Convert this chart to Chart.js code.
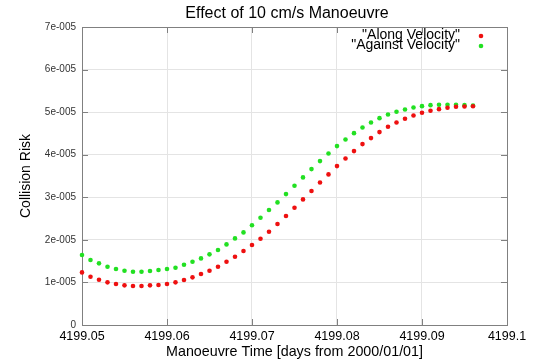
<!DOCTYPE html>
<html>
<head>
<meta charset="utf-8">
<script src="https://cdn.jsdelivr.net/npm/chart.js@4.4.1/dist/chart.umd.min.js"></script>
<style>
html,body{margin:0;padding:0;background:#fff;}
#wrap{width:537px;height:362px;}
</style>
</head>
<body>
<div id="wrap"><canvas id="c" width="537" height="362"></canvas></div>
<script>
const chartTitle = 'Effect of 10 cm/s Manoeuvre';
const xTitle = 'Manoeuvre Time [days from 2000/01/01]';
const yTitle = 'Collision Risk';
const seriesNames = ['"Along Velocity"', '"Against Velocity"'];

const manoeuvreTimes = [
  4199.050, 4199.051, 4199.052, 4199.053, 4199.054, 4199.055, 4199.056, 4199.057, 4199.058, 4199.059,
  4199.060, 4199.061, 4199.062, 4199.063, 4199.064, 4199.065, 4199.066, 4199.067, 4199.068, 4199.069,
  4199.070, 4199.071, 4199.072, 4199.073, 4199.074, 4199.075, 4199.076, 4199.077, 4199.078, 4199.079,
  4199.080, 4199.081, 4199.082, 4199.083, 4199.084, 4199.085, 4199.086, 4199.087, 4199.088, 4199.089,
  4199.090, 4199.091, 4199.092, 4199.093, 4199.094, 4199.095, 4199.096
];

const alongVelocity = [
  1.236e-5, 1.135e-5, 1.064e-5, 1.002e-5, 0.962e-5, 0.931e-5, 0.915e-5, 0.915e-5, 0.931e-5, 0.939e-5,
  0.962e-5, 1.002e-5, 1.056e-5, 1.119e-5, 1.197e-5, 1.275e-5, 1.369e-5, 1.487e-5, 1.604e-5, 1.737e-5,
  1.878e-5, 2.027e-5, 2.191e-5, 2.371e-5, 2.559e-5, 2.754e-5, 2.950e-5, 3.146e-5, 3.349e-5, 3.537e-5,
  3.732e-5, 3.912e-5, 4.085e-5, 4.249e-5, 4.390e-5, 4.531e-5, 4.656e-5, 4.757e-5, 4.844e-5, 4.922e-5,
  4.984e-5, 5.031e-5, 5.070e-5, 5.102e-5, 5.125e-5, 5.133e-5, 5.140e-5
];

const againstVelocity = [
  1.643e-5, 1.526e-5, 1.448e-5, 1.369e-5, 1.315e-5, 1.275e-5, 1.252e-5, 1.252e-5, 1.268e-5, 1.291e-5,
  1.315e-5, 1.346e-5, 1.416e-5, 1.487e-5, 1.565e-5, 1.659e-5, 1.761e-5, 1.893e-5, 2.034e-5, 2.175e-5,
  2.343e-5, 2.519e-5, 2.700e-5, 2.880e-5, 3.075e-5, 3.271e-5, 3.467e-5, 3.662e-5, 3.850e-5, 4.030e-5,
  4.202e-5, 4.358e-5, 4.507e-5, 4.640e-5, 4.757e-5, 4.859e-5, 4.945e-5, 5.008e-5, 5.063e-5, 5.110e-5,
  5.141e-5, 5.164e-5, 5.172e-5, 5.172e-5, 5.172e-5, 5.164e-5, 5.156e-5
];

const xTickValues = [4199.05, 4199.06, 4199.07, 4199.08, 4199.09, 4199.1];
const yTickValues = [0, 1e-5, 2e-5, 3e-5, 4e-5, 5e-5, 6e-5, 7e-5];

const FONT = "'Liberation Sans', Arial, sans-serif";
const colors = ['#ee1010', '#22e022'];

function yLabel(v) {
  if (Math.abs(v) < 1e-12) return '0';
  const m = Math.round(v / 1e-5);
  return m + 'e-005';
}
function xLabel(v) {
  return String(Number(v.toFixed(2)));
}

const frame = {
  id: 'frame',
  beforeDatasetsDraw(chart) {
    const {ctx, chartArea: a, scales} = chart;
    ctx.save();
    ctx.strokeStyle = '#808080';
    ctx.lineWidth = 1;
    ctx.beginPath();
    const tl = 6;
    xTickValues.forEach(v => {
      const px = Math.round(scales.x.getPixelForValue(v)) + 0.5;
      ctx.moveTo(px, a.bottom); ctx.lineTo(px, a.bottom - tl);
      ctx.moveTo(px, a.top); ctx.lineTo(px, a.top + tl);
    });
    yTickValues.forEach(v => {
      const py = Math.round(scales.y.getPixelForValue(v)) + 0.5;
      ctx.moveTo(a.left, py); ctx.lineTo(a.left + tl, py);
      ctx.moveTo(a.right, py); ctx.lineTo(a.right - tl, py);
    });
    ctx.stroke();
    ctx.strokeRect(Math.round(a.left) + 0.5, Math.round(a.top) + 0.5,
                   Math.round(a.right - a.left), Math.round(a.bottom - a.top));
    ctx.restore();
  },
  afterDraw(chart) {
    const {ctx} = chart;
    ctx.save();
    // title
    ctx.fillStyle = '#000';
    ctx.font = '16px ' + FONT;
    ctx.textAlign = 'center';
    ctx.textBaseline = 'middle';
    ctx.fillText(chartTitle, 287, 14);
    // legend
    ctx.font = '14px ' + FONT;
    ctx.textAlign = 'right';
    ctx.textBaseline = 'middle';
    const textRight = 460, markX = 481;
    chart.data.datasets.forEach((ds, i) => {
      const y = 35 + i * 10;
      ctx.fillStyle = '#000';
      ctx.fillText(ds.label, textRight, y);
      ctx.fillStyle = ds.backgroundColor;
      ctx.beginPath();
      ctx.arc(markX, y + 1, 2.3, 0, Math.PI * 2);
      ctx.fill();
    });
    ctx.restore();
  }
};

new Chart(document.getElementById('c'), {
  type: 'scatter',
  data: {
    datasets: [
      {
        label: seriesNames[0],
        data: manoeuvreTimes.map((t, i) => ({x: t, y: alongVelocity[i]})),
        backgroundColor: colors[0],
        borderColor: colors[0],
        pointRadius: 2.3,
        borderWidth: 0,
        clip: false
      },
      {
        label: seriesNames[1],
        data: manoeuvreTimes.map((t, i) => ({x: t, y: againstVelocity[i]})),
        backgroundColor: colors[1],
        borderColor: colors[1],
        pointRadius: 2.3,
        borderWidth: 0,
        clip: false
      }
    ]
  },
  options: {
    responsive: false,
    animation: false,
    devicePixelRatio: 1,
    layout: {padding: {left: 0, right: 30, top: 27, bottom: 0}},
    plugins: {
      legend: {display: false},
      tooltip: {enabled: false},
      title: {display: false}
    },
    scales: {
      x: {
        type: 'linear',
        min: 4199.05,
        max: 4199.1,
        afterBuildTicks: s => { s.ticks = xTickValues.map(v => ({value: v})); },
        afterFit: s => { s.height = 37; },
        ticks: {
          callback: v => xLabel(v),
          color: '#000',
          font: {family: FONT, size: 12.5},
          padding: 4,
          maxRotation: 0,
          autoSkip: false
        },
        grid: {color: '#e4e4e4', lineWidth: 1, drawTicks: false},
        border: {display: false},
        title: {
          display: true,
          text: xTitle,
          color: '#000',
          font: {family: FONT, size: 14.3},
          padding: {top: 0, bottom: 1}
        }
      },
      y: {
        type: 'linear',
        min: 0,
        max: 7e-5,
        afterBuildTicks: s => { s.ticks = yTickValues.map(v => ({value: v})); },
        afterFit: s => { s.width = 82; },
        ticks: {
          callback: v => yLabel(v),
          color: '#333',
          font: {family: FONT, size: 10},
          padding: 6,
          autoSkip: false
        },
        grid: {color: '#e4e4e4', lineWidth: 1, drawTicks: false},
        border: {display: false},
        title: {
          display: true,
          text: yTitle,
          color: '#000',
          font: {family: FONT, size: 14},
          padding: {top: 18, bottom: 0}
        }
      }
    }
  },
  plugins: [frame]
});
</script>
</body>
</html>
